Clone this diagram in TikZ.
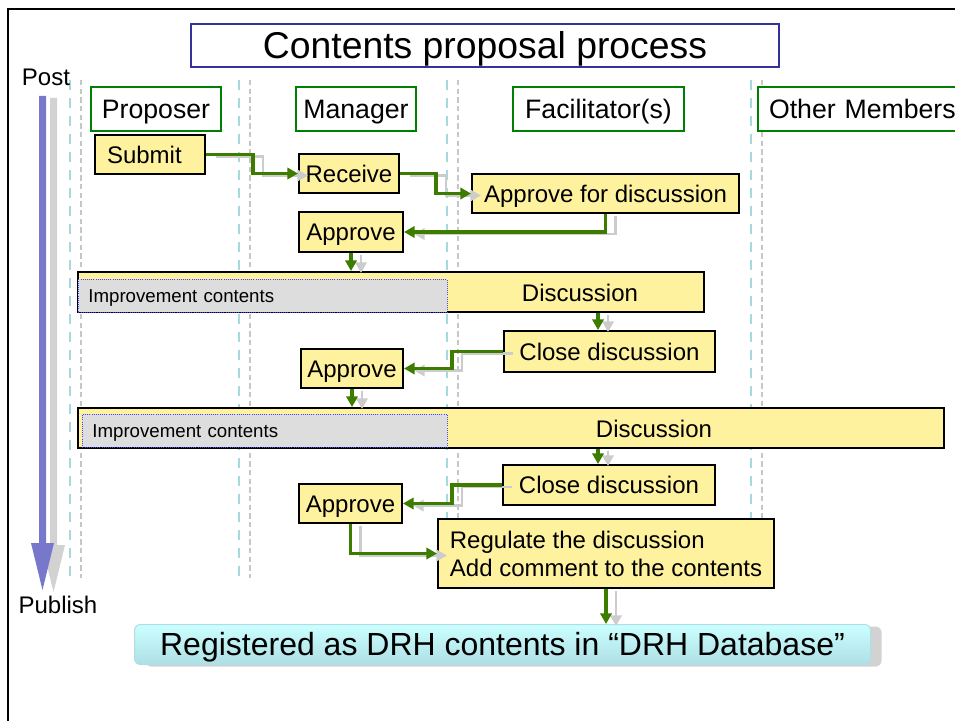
\documentclass[tikz,border=0pt]{standalone}
\usepackage{fontspec}
\setmainfont{Liberation Sans}
\usetikzlibrary{arrows.meta,shadows}
\newdimen\pxu \pxu=0.75pt
\definecolor{taskfill}{HTML}{FFF29F}
\definecolor{flowgreen}{HTML}{3C7D00}
\definecolor{hdrgreen}{HTML}{008000}
\definecolor{titleblue}{HTML}{333399}
\definecolor{arrowblue}{HTML}{7777CC}
\definecolor{lanecyan}{HTML}{A6D9DD}
\definecolor{impfill}{HTML}{DDDDDD}
\definecolor{impline}{HTML}{4444FF}
\definecolor{regtop}{HTML}{CCFFFF}
\definecolor{regbot}{HTML}{ADDFE5}
\newcommand\flowpath[1]{%
  \draw[shadowflow,transform canvas={shift={(7.5pt,-1.5pt)}}] #1;
  \draw[flow] #1;}
\tikzset{
  titlebox/.style={draw=titleblue, line width=1.5pt, fill=white, inner sep=0pt, anchor=north west, text height=20pt, text depth=0pt, font=\fontsize{28}{33}\selectfont},
  header/.style={draw=hdrgreen, line width=1.5pt, fill=white, inner sep=0pt, anchor=north west, text height=14.3pt, text depth=0pt, font=\fontsize{20}{24}\selectfont},
  task/.style={draw=black, line width=1.5pt, fill=taskfill, inner sep=0pt, anchor=north west, text height=12.9pt, text depth=0pt, font=\fontsize{18}{21}\selectfont},
  impbox/.style={draw=impline, line width=0.6pt, densely dotted, fill=impfill, inner ysep=0pt, anchor=north west, align=left, text height=10pt, text depth=0pt, font=\fontsize{14}{17}\selectfont},
  plain/.style={inner sep=0pt, text height=12.9pt, text depth=0pt, font=\fontsize{18}{21}\selectfont},
  regbox/.style={rounded corners=4.5pt, top color=regtop, bottom color=regbot, draw=regbot, line width=0.75pt, inner sep=0pt, anchor=north west, text height=17.2pt, text depth=0pt, font=\fontsize{24}{28}\selectfont,
    general shadow={fill=gray!35, shadow xshift=8.25pt, shadow yshift=-1.5pt}},
  lane/.style={draw=lanecyan, line width=1.5pt, dash pattern=on 7.5pt off 6pt},
  lanegray/.style={draw=gray!45, line width=1pt, dash pattern=on 4pt off 2.5pt},
  flow/.style={draw=flowgreen, line width=2.4pt, -{Triangle[length=8pt,width=8.5pt]}},
  shadowflow/.style={draw=gray!40, line width=2pt, -{Triangle[length=8pt,width=8.5pt]}}
}
\begin{document}
\begin{tikzpicture}[x=0.75pt,y=-0.75pt]
\useasboundingbox (0,0) rectangle (955,720);
% frame
\draw[line width=1.5pt] (8,721) -- (8,9) -- (956,9);
% swimlane separators
\foreach \lx in {70,239,447,751} {\draw[lane] (\lx,80) -- (\lx,578);}
\foreach \lx in {81,250,458,762} {\draw[lanegray] (\lx,80) -- (\lx,578);}
% time arrow
\fill[arrowblue, general shadow={fill=gray!35, shadow xshift=8.25pt, shadow yshift=-1.5pt}]
  (39,96) -- (46,96) -- (46,543) -- (54,543) -- (42.5,590) -- (31,543) -- (39,543) -- cycle;
\node[plain] (post) at (46,77) {Post};
\node[plain] (publish) at (58,605) {Publish};
% title
\node[titlebox, minimum width=588\pxu, minimum height=43\pxu] (title) at (190,23) {Contents proposal process};
% headers
\node[header, minimum width=130\pxu, minimum height=44\pxu] (proposer) at (90,86) {Proposer};
\node[header, minimum width=120\pxu, minimum height=44\pxu] (manager) at (295,86) {Manager};
\node[header, minimum width=171\pxu, minimum height=44\pxu] (facil) at (512,86) {Facilitator(s)};
\node[header, minimum height=44\pxu, inner xsep=11\pxu, text width=188\pxu, align=left] (others) at (757,86) {Other Members};
% tasks
\node[task, minimum width=110\pxu, minimum height=39\pxu, inner xsep=12\pxu, text width=86\pxu, align=left] (submit) at (94,134) {Submit};
\node[task, minimum width=100\pxu, minimum height=39\pxu] (receive) at (298,153) {Receive};
\node[task, minimum width=267\pxu, minimum height=39\pxu] (afd) at (471,173) {Approve for discussion};
\node[task, minimum width=104\pxu, minimum height=40\pxu] (app1) at (298,211) {Approve};
\node[task, minimum width=626\pxu, minimum height=40\pxu] (disc1) at (77,271) {};
\node[impbox, minimum height=33\pxu, inner xsep=10\pxu, text width=349\pxu] (imp1) at (78,279) {Improvement contents};
\node[plain] (disc1t) at (580,293) {Discussion};
\node[task, minimum width=211\pxu, minimum height=41\pxu] (close1) at (503,330) {Close discussion};
\node[task, minimum width=102\pxu, minimum height=39\pxu] (app2) at (300,348) {Approve};
\node[task, minimum width=866\pxu, minimum height=40\pxu] (disc2) at (77,407) {};
\node[impbox, minimum height=33\pxu, inner xsep=10\pxu, text width=345\pxu] (imp2) at (82,414) {Improvement contents};
\node[plain] (disc2t) at (654,429) {Discussion};
\node[task, minimum width=212\pxu, minimum height=40\pxu] (close2) at (502,464) {Close discussion};
\node[task, minimum width=103\pxu, minimum height=39\pxu] (app3) at (298,483) {Approve};
\node[task, minimum width=336\pxu, minimum height=69\pxu, align=left, text height=, text depth=] (reg) at (437,518) {Regulate the discussion\\Add comment to the contents};
\node[regbox, minimum width=736\pxu, minimum height=40\pxu] (regd) at (134,624) {Registered as DRH contents in “DRH Database”};
% flows
\flowpath{(submit.east) -- ++(47,0) |- (receive.west)}
\flowpath{(receive.east) -- ++(36,0) |- (afd.west)}
\flowpath{(afd.south) |- (app1.east)}
\flowpath{(app1.south) -- (app1.south |- disc1.north)}
\flowpath{(598,0 |- disc1.south) -- (598,0 |- close1.north)}
\flowpath{(close1.west) -- (452,0 |- close1.west) |- (app2.east)}
\flowpath{(app2.south) -- (app2.south |- disc2.north)}
\flowpath{(598,0 |- disc2.south) -- (598,0 |- close2.north)}
\flowpath{(close2.west) -- (452,0 |- close2.west) |- (app3.east)}
\flowpath{(app3.south) |- (reg.west)}
\flowpath{(reg.south) -- (reg.south |- regd.north)}
\end{tikzpicture}
\end{document}
